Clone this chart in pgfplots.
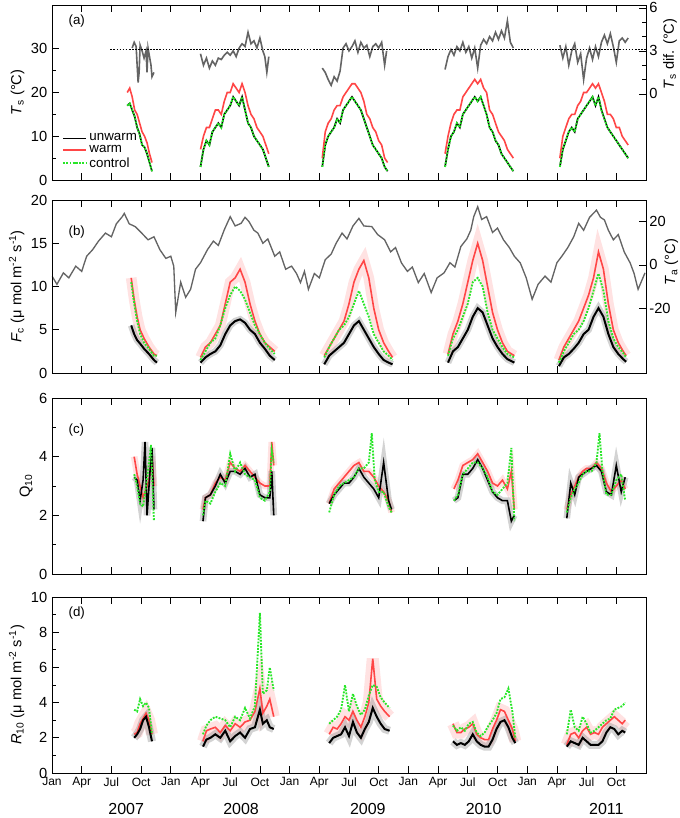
\documentclass[border=0pt]{standalone}
\usepackage{pgfplots}
\pgfplotsset{compat=1.18}
\usepackage{pgfplotstable}
\usepackage{fontspec}
\setmainfont{Liberation Sans}
\definecolor{cred}{RGB}{255,70,70}
\definecolor{cgreen}{RGB}{40,230,40}
\definecolor{cgray}{RGB}{100,100,100}
\pgfplotstableread{
x u w
7.6 17 20
7.85 17.5 21
8.1 16 19
8.35 14.5 16
8.6 12 15
8.85 10.5 13
9.1 8 11
9.35 7.5 10
9.6 6 8.5
9.85 4 6
10.1 2 4
nan nan nan
15.0 3 7
15.3 7 10
15.6 9 12
15.9 8 12
16.2 11 14
16.5 12 16
16.8 13 16
17.1 12 15
17.4 15 18
17.7 16 20
18.0 17 20
18.3 19 22
18.6 18 21
18.9 17 20
19.2 19 22
19.5 16 20
19.8 13 17
20.1 12 15
20.4 10 14
20.7 9 12
21.0 8 11
21.3 7 10
21.6 5 8
21.9 3 6
nan nan nan
27.3 3 5
27.6 8 11
27.9 10 13
28.2 11 14
28.5 12 16
28.8 14 17
29.1 13 17
29.4 16 19
29.7 17 20
30.0 18 21
30.3 19 22
30.6 18 22
30.9 17 21
31.2 16 20
31.5 14 18
31.8 12 15
32.1 10 14
32.4 8 12
32.7 7 11
33.0 6 9
33.3 5 8
33.6 3 5
33.9 2 4
nan nan nan
39.7 3 6
40.0 7 10
40.3 10 13
40.6 11 15
40.9 13 16
41.2 12 16
41.5 15 19
41.8 16 20
42.1 17 21
42.4 18 22
42.7 19 23
43.0 18 22
43.3 19 23
43.6 17 21
43.9 15 20
44.2 12 16
44.5 11 15
44.8 9 13
45.1 8 11
45.4 6 10
45.7 5 9
46.0 4 7
46.3 3 6
46.6 2 5
nan nan nan
51.3 3 5
51.6 7 10
51.9 9 12
52.2 11 14
52.5 12 15
52.8 11 15
53.1 14 17
53.4 15 18
53.7 16 20
54.0 17 20
54.3 18 21
54.6 19 22
54.9 17 21
55.2 19 22
55.5 16 20
55.8 14 18
56.1 12 15
56.4 11 15
56.7 10 14
57.0 9 12
57.3 8 12
57.6 7 10
57.9 6 9
58.2 5 8
}\tsdata
\pgfplotstableread{
x d
8.1 3.2
8.3 3.6
8.5 3.3
8.6 2.0
8.7 0.8
8.8 1.5
8.9 3.4
9.1 3.0
9.3 2.5
9.5 3.0
9.6 1.5
9.7 3.2
9.8 2.8
10.0 2.0
10.1 1.2
10.3 1.5
nan nan
15.0 2.8
15.3 2.0
15.6 2.5
15.9 1.8
16.2 2.3
16.5 2.0
16.8 2.5
17.1 2.4
17.4 2.7
17.7 2.9
18.0 2.7
18.3 3.0
18.6 2.6
18.9 3.2
19.2 3.5
19.5 3.3
19.8 4.3
20.1 3.5
20.4 3.7
20.7 3.2
21.0 3.9
21.3 3.0
21.5 2.6
21.7 1.5
21.9 2.6
nan nan
27.3 1.8
27.6 1.5
27.9 1.0
28.2 0.6
28.5 1.2
28.8 0.9
29.1 1.6
29.4 3.2
29.7 3.5
30.0 3.0
30.3 3.3
30.6 3.7
30.9 2.9
31.2 3.6
31.5 3.2
31.8 3.4
32.1 2.6
32.4 3.3
32.7 3.5
33.0 3.2
33.3 3.6
33.6 2.0
33.8 3.0
nan nan
39.7 1.7
40.0 2.6
40.3 3.1
40.6 2.7
40.9 3.3
41.2 3.0
41.5 3.6
41.8 2.9
42.1 3.3
42.4 2.5
42.7 3.2
43.0 1.8
43.3 3.4
43.6 3.8
43.9 3.5
44.2 4.0
44.5 3.7
44.8 4.3
45.1 3.8
45.4 4.4
45.7 3.9
46.0 5.1
46.3 3.6
46.6 3.2
nan nan
51.3 3.4
51.6 2.5
51.9 3.3
52.2 2.0
52.5 3.0
52.8 3.5
53.1 2.2
53.4 2.8
53.7 1.0
54.0 2.5
54.3 3.2
54.6 2.4
54.9 3.3
55.2 2.6
55.5 3.6
55.8 4.1
56.1 3.5
56.4 4.2
56.7 3.3
57.0 2.2
57.3 3.7
57.6 3.9
57.9 3.6
58.2 3.9
}\difdata
\pgfplotstableread{
x t
0.0 -5.2
0.5 -9
1.15 -3.7
1.7 -6
2.4 -0.6
3.0 -3
3.5 4
4.1 7.0
4.7 11
5.4 14.7
6.0 13
6.5 19
7.1 22.3
7.3 23.8
7.8 19
8.4 17.7
9.0 15
9.7 11.6
10.3 13
10.9 7.0
11.5 3
12.0 4
12.3 -0.6
12.5 -22
13.0 -8
13.5 -15
14.0 -11.3
14.5 -2
15.0 1
15.7 7.0
16.3 11
16.8 9
17.4 16.2
18.0 22.3
18.5 18
19.1 19.2
19.5 22
19.9 20
20.4 16
20.8 14.7
21.3 10
21.8 12
22.5 4.0
23.0 6
23.6 -2
24.2 -0.6
24.7 -4
25.1 -8.2
25.5 -3
25.9 -11.3
26.5 -4
27.0 -6
27.6 2.4
28.2 5
28.7 10
29.3 14.7
29.8 12
30.4 18
31.0 21.5
31.5 18
32.3 17.7
32.9 14
33.6 11.6
34.2 6
34.7 8
35.3 0.9
35.9 -3
36.4 -1
37.0 -8.2
37.6 -4
38.3 -12.8
38.9 -6
39.6 -3.7
40.2 1
40.7 -1
41.3 8.5
41.9 12
42.3 16
42.6 22.3
43.0 26.9
43.4 21
43.9 22.3
44.5 15
45.0 17
45.6 11.6
46.2 8
46.7 4
47.3 0.9
47.9 -6
48.5 -15.9
49.1 -9
49.8 -5.2
50.4 -8
51.0 1
51.5 4.0
52.1 8
52.7 13
53.2 19.2
53.7 16
54.3 22
55.0 25.3
55.4 22
55.8 20.8
56.2 16
56.7 11.6
57.2 14
57.8 6
58.4 0.9
58.8 -4
59.2 -11.3
59.9 -3.7
}\tadata
\pgfplotstableread{
x u c w
8.0 5.5 10.5 11
8.3 4.5 8 8.5
8.6 3.8 6 6.5
8.9 3.4 4.5 5
9.3 2.8 3.5 4
9.8 2.2 2.8 3
10.3 1.5 2 2.2
10.6 1.2 2 2
nan nan nan nan
15.0 1.2 1.5 1.8
15.5 1.8 2.5 3
16.0 2.2 3.5 3.5
16.5 2.5 4 4.5
17.0 3.2 5.5 5.5
17.5 4.5 7.5 8
18.0 5.5 9 10.5
18.5 6.0 10 11
19.0 6.2 9.5 12
19.5 5.8 8.5 10.5
20.0 5.0 7 8
20.5 4.5 5.5 6
21.0 3.5 4.5 4.5
21.5 2.8 3.5 3.5
22.0 2.0 2.8 3
22.5 1.5 2.2 2.5
nan nan nan nan
27.5 1 1.8 2
28.0 2 3 3
28.5 2.5 4 4
29.0 3 5 5
29.5 3.5 5.5 6
30.0 4.5 6.5 8
30.5 5.5 8 10.5
31.0 6 9.5 12
31.5 5 8 13
32.0 4 6.5 11
32.5 3 4.5 7.5
33.0 2.2 3.5 5
33.5 1.5 2.5 3.5
34.0 1.2 2 2.5
34.4 1 1.5 1.8
nan nan nan nan
40.0 1.2 2 2.2
40.5 2.5 4 4.5
41.0 3 5 6
41.5 4 6.5 8
42.0 5 8 10.5
42.5 6.5 10.5 13
43.0 7.5 11 15
43.5 7 10 13
44.0 5.5 7 10
44.5 4 5 7
45.0 3 4 5
45.5 2.2 3 3.5
46.0 1.6 2.2 2.5
46.7 1.2 1.8 2
nan nan nan nan
51.2 0.8 1.2 1.5
51.7 1.8 2.5 3
52.2 2.2 3.5 4
52.7 2.8 4.5 5
53.2 3.5 5 6
53.7 4.5 6 7.5
54.2 5 7.5 9
54.7 6.5 9.5 11
55.2 7.5 11.5 14
55.7 6.5 9.5 12
56.2 4.5 6 8
56.7 3 4 5
57.2 2.2 3 3.5
57.7 1.6 2.3 2.5
58.0 1.3 1.8 2
}\fcdata
\pgfplotstableread{
x y
8.3 4.0
8.6 3.4
8.9 3.0
9.2 2.6
9.5 2.9
9.8 3.2
10.1 4.0
10.3 3.0
nan nan
15.25 2.2
15.5 2.6
16 2.7
16.5 3.1
17 3.3
17.5 3.2
18 3.8
18.5 3.6
19 3.5
19.5 3.7
20 3.5
20.5 3.3
21 3.1
21.5 3.0
22 3.0
22.2 4.5
22.4 3.7
nan nan
28 2.4
28.5 2.9
29 3.1
29.5 3.3
30 3.5
30.5 3.7
31 3.8
31.5 3.5
32 3.5
32.5 3.3
33 3.0
33.5 2.8
34 2.5
34.3 2.1
nan nan
40.6 2.9
41 3.2
41.5 3.7
42 3.8
42.5 3.9
43 4.1
43.5 3.8
44 3.5
44.5 3.1
45 3.0
45.5 3.2
46 2.9
46.4 3.5
46.7 2.2
nan nan
52 2.2
52.4 2.7
52.8 3.0
53.2 3.3
53.6 3.5
54 3.6
54.5 3.6
55 3.8
55.5 3.6
56 3.1
56.5 2.8
57 3.0
57.5 3.2
57.9 2.9
}\qw
\pgfplotstableread{
x y
8.3 3.3
8.6 3.2
8.9 2.5
9.2 3.2
9.4 4.5
9.6 2.0
9.9 3.5
10.1 4.3
10.3 2.2
nan nan
15.25 1.8
15.5 2.6
16 2.7
16.5 3.0
17 3.4
17.5 3.1
18 3.5
18.5 3.5
19 3.4
19.5 3.6
20 3.3
20.5 3.4
21 2.7
21.5 2.6
22 2.6
22.2 3.5
22.4 2.0
nan nan
28 2.4
28.5 2.7
29 2.9
29.5 3.1
30 3.1
30.5 3.3
31 3.6
31.5 3.3
32 3.1
32.5 2.9
33 2.6
33.5 3.8
34 2.5
34.3 2.2
nan nan
40.6 2.5
41 2.6
41.5 3.4
42 3.4
42.5 3.6
43 3.9
43.5 3.6
44 3.2
44.5 2.8
45 2.6
45.5 2.5
46 2.5
46.4 1.8
46.7 2.0
nan nan
52 1.9
52.4 3.1
52.8 2.7
53.2 3.3
53.6 3.4
54 3.5
54.5 3.6
55 3.7
55.5 3.5
56 2.8
56.5 2.7
57 3.7
57.5 2.8
57.9 3.3
}\qu
\pgfplotstableread{
x y
8.3 3.4
8.6 3.0
8.9 2.4
9.2 2.3
9.5 3.0
9.8 3.8
10.0 4.4
10.3 1.8
nan nan
15.25 2.0
15.5 2.5
16 2.4
16.5 2.8
17 3.1
17.5 3.0
18 4.1
18.5 3.5
19 3.8
19.5 3.4
20 3.3
20.5 3.2
21 2.6
21.5 2.5
22 2.8
22.2 4.2
22.4 3.8
nan nan
28 2.1
28.5 2.7
29 3.0
29.5 3.1
30 3.2
30.5 3.3
31 3.6
31.5 3.6
32 3.8
32.3 4.8
32.6 3.2
33 2.8
33.5 2.8
34 2.3
34.3 2.1
nan nan
40.6 2.5
41 2.7
41.5 3.4
42 3.6
42.5 3.8
43 3.8
43.5 3.6
44 3.3
44.5 2.8
45 2.7
45.5 2.9
46 3.1
46.4 4.3
46.7 1.8
nan nan
52 2.1
52.4 2.6
52.8 2.9
53.2 3.1
53.6 3.4
54 3.5
54.5 3.5
55 3.8
55.3 4.8
55.6 3.5
56 2.7
56.5 2.7
57 3.2
57.5 3.4
57.9 2.5
}\qc
\pgfplotstableread{
x u w c
8.3 2.0 2.2 3.6
8.6 2.2 2.3 3.5
8.9 2.5 2.8 4.2
9.2 3.0 3.1 3.8
9.5 3.2 3.4 4.0
9.8 2.6 3.0 3.7
10.1 1.8 2.2 2.2
nan nan nan nan
15.25 1.5 1.8 2.2
15.6 1.9 2.4 2.7
16 2.0 2.5 3.0
16.5 2.2 2.6 3.2
17 2.0 2.3 3.1
17.5 2.4 2.7 3.0
18 1.8 2.4 2.6
18.5 2.1 2.8 3.2
19 2.3 2.6 3.0
19.5 2.0 2.9 3.7
20 2.5 3.0 3.1
20.5 2.6 3.5 3.8
21.0 3.6 4.8 9.1
21.3 2.8 3.4 4.5
21.7 3.0 3.8 4.7
22 2.6 4.2 6.0
22.4 2.5 3.2 4.7
nan nan nan nan
28 1.7 2.2 2.8
28.4 2.0 2.6 3.0
28.8 2.1 2.5 3.2
29.2 2.2 2.8 3.6
29.6 2.6 3.2 5.0
30 2.1 3.0 3.5
30.4 2.9 3.5 4.5
30.8 2.3 3.0 3.8
31.2 2.0 2.6 3.3
31.6 2.5 3.2 3.6
32 2.9 4.0 4.4
32.4 3.7 6.5 5.0
32.8 3.2 4.2 4.9
33.2 2.8 3.8 4.3
33.6 2.5 3.5 4.0
34.1 2.4 3.2 3.7
nan nan nan nan
40.5 1.8 2.8 2.7
40.9 1.6 2.3 2.4
41.3 1.7 2.3 2.6
41.7 1.6 2.5 2.4
42.1 1.8 2.6 2.8
42.5 2.2 2.8 2.9
42.9 1.8 2.2 2.3
43.3 1.6 2.0 2.1
43.7 1.5 1.9 2.3
44.1 1.5 1.9 2.7
44.5 1.9 2.5 3.0
44.9 2.5 3.0 3.4
45.3 2.9 3.6 4.2
45.7 3.0 3.5 4.3
46.1 2.6 3.0 4.8
46.5 2.0 2.5 3.5
46.8 1.7 1.8 2.0
nan nan nan nan
52 1.5 1.6 2.2
52.4 1.8 2.2 3.6
52.8 1.7 2.3 2.6
53.2 1.6 2.0 2.4
53.6 2.0 2.4 3.2
54 1.8 2.6 2.8
54.4 1.6 2.2 2.3
54.8 1.6 2.3 2.4
55.2 1.6 2.2 2.6
55.6 1.8 2.6 2.8
56 2.3 2.8 3.0
56.4 2.6 3.0 3.1
56.8 2.5 3.2 3.6
57.2 2.2 3.0 3.7
57.6 2.4 2.8 3.8
57.9 2.3 3.0 4.0
}\rdata
\pgfplotsset{
  base/.style={
    scale only axis, width=445.5pt, xmin=0, xmax=60,
    xtick={0,3,...,57}, xticklabels={}, tick align=inside,
    major tick length=5pt, minor tick length=3pt,
    xtick pos=both, ytick pos=left,
    unbounded coords=jump,
    /pgf/number format/assume math mode=true,
    tick label style={font=\fontsize{11}{12}\selectfont},
    label style={font=\fontsize{11}{12}\selectfont},
    ylabel style={yshift=-2pt},
    axis line style={line width=0.6pt},
    every tick/.style={black, line width=0.5pt},
  },
  rax/.style={
    scale only axis, width=445.5pt, xmin=0, xmax=60,
    axis x line=none, axis y line*=right, tick align=inside,
    major tick length=5pt, minor tick length=3pt,
    unbounded coords=jump, clip mode=individual,
    /pgf/number format/assume math mode=true,
    tick label style={font=\fontsize{11}{12}\selectfont, xshift=-1pt},
    every tick/.style={black, line width=0.5pt},
  },
  band/.style={line width=5pt, opacity=0.35},
}
\begin{document}
\begin{tikzpicture}
\path[use as bounding box] (-39pt,0pt) rectangle (471pt,-613.5pt);
% (a)
\begin{axis}[base, at={(0,-3.75pt)}, anchor=north west, height=131.25pt,
  ymin=0, ymax=40, ytick={0,10,20,30}, minor y tick num=1,
  ylabel={\textit{T}\textsubscript{s} (°C)},
  legend style={at={(0.01,0.03)}, anchor=south west, draw=none, fill=none,
    font=\fontsize{10}{11}\selectfont, row sep=-2pt},
  legend cell align=left]
\addplot[black, line width=1.2pt] table[x=x,y=u]{\tsdata};
\addlegendentry{unwarm}
\addplot[cred, line width=1.2pt] table[x=x,y=w]{\tsdata};
\addlegendentry{warm}
\addplot[cgreen, line width=1.4pt, densely dotted] table[x=x,y=u]{\tsdata};
\addlegendentry{control}
\node[anchor=north west] at (rel axis cs:0.02,0.97) {(a)};
\end{axis}
\begin{axis}[rax, at={(0,-3.75pt)}, anchor=north west, height=131.25pt,
  ymin=-6, ymax=6.2, ytick={0,3,6}, minor y tick num=2]
\addplot[cgray, line width=1.2pt] table[x=x,y=d]{\difdata};
\addplot[black, line width=1.3pt, densely dotted] coordinates {(5.9,3.1) (60,3.1)};
\node[rotate=90, font=\fontsize{11}{12}\selectfont, xshift=0pt] at ([xshift=18pt]rel axis cs:1,0.72) {\textit{T}\textsubscript{s} dif. (°C)};
\end{axis}
% (b)
\begin{axis}[rax, at={(0,-150pt)}, anchor=north west, height=129.75pt,
  ymin=-50, ymax=30, ytick={-20,0,20}]
\addplot[cgray, line width=1pt] table[x=x,y=t]{\tadata};
\node[rotate=90, font=\fontsize{11}{12}\selectfont] at ([xshift=19pt]rel axis cs:1,0.64) {\textit{T}\textsubscript{a} (°C)};
\end{axis}
\begin{axis}[base, at={(0,-150pt)}, anchor=north west, height=129.75pt,
  ymin=0, ymax=20, ytick={0,5,10,15,20},
  ylabel={\textit{F}\textsubscript{c} (μ mol m\textsuperscript{-2} s\textsuperscript{-1})}]
\addplot[cred!45, band, line width=8pt] table[x=x,y=w]{\fcdata};
\addplot[gray, band] table[x=x,y=u]{\fcdata};
\addplot[cred, line width=1.2pt] table[x=x,y=w]{\fcdata};
\addplot[black, line width=1.5pt] table[x=x,y=u]{\fcdata};
\addplot[cgreen, line width=1.4pt, densely dotted] table[x=x,y=c]{\fcdata};
\node[anchor=north west] at (rel axis cs:0.02,0.88) {(b)};
\end{axis}
% (c)
\begin{axis}[base, at={(0,-298.5pt)}, anchor=north west, height=132pt,
  ymin=0, ymax=6, ytick={0,2,4,6}, minor y tick num=1,
  ylabel={Q\textsubscript{10}}]
\addplot[cred!45, band] table{\qw};
\addplot[gray, band] table{\qu};
\addplot[cred, line width=1.2pt] table{\qw};
\addplot[black, line width=1.2pt] table{\qu};
\addplot[cgreen, line width=1.4pt, densely dotted] table{\qc};
\node[anchor=north west] at (rel axis cs:0.02,0.88) {(c)};
\end{axis}
% (d)
\begin{axis}[base, at={(0,-447.75pt)}, anchor=north west, height=132pt,
  ymin=0, ymax=10, ytick={0,2,4,6,8,10}, minor y tick num=1,
  xticklabels={Jan,Apr,Jul,Oct,Jan,Apr,Jul,Oct,Jan,Apr,Jul,Oct,Jan,Apr,Jul,Oct,Jan,Apr,Jul,Oct},
  xticklabel style={font=\fontsize{9}{10}\selectfont},
  ylabel={\textit{R}\textsubscript{10} (μ mol m\textsuperscript{-2} s\textsuperscript{-1})},
  clip mode=individual]
\addplot[cred!45, band, line width=9pt] table[x=x,y=w]{\rdata};
\addplot[gray, band, line width=6pt] table[x=x,y=u]{\rdata};
\addplot[cred, line width=1.2pt] table[x=x,y=w]{\rdata};
\addplot[black, line width=1.5pt] table[x=x,y=u]{\rdata};
\addplot[cgreen, line width=1.4pt, densely dotted] table[x=x,y=c]{\rdata};
\node[anchor=north west] at (rel axis cs:0.02,0.97) {(d)};
\node[font=\fontsize{12}{13}\selectfont, yshift=-27pt] at (axis cs:7.5,0) {2007};
\node[font=\fontsize{12}{13}\selectfont, yshift=-27pt] at (axis cs:19.1,0) {2008};
\node[font=\fontsize{12}{13}\selectfont, yshift=-27pt] at (axis cs:31.9,0) {2009};
\node[font=\fontsize{12}{13}\selectfont, yshift=-27pt] at (axis cs:43.6,0) {2010};
\node[font=\fontsize{12}{13}\selectfont, yshift=-27pt] at (axis cs:56.0,0) {2011};
\end{axis}
\end{tikzpicture}
\end{document}
